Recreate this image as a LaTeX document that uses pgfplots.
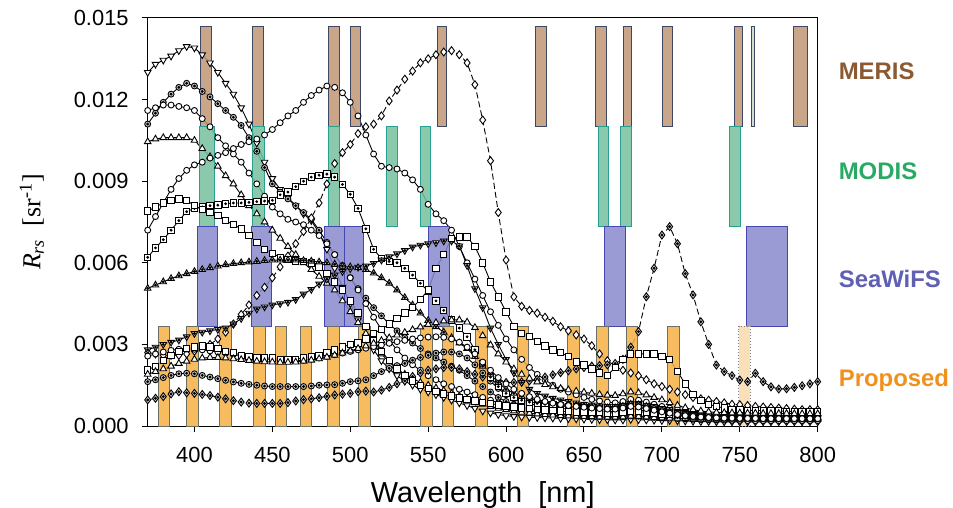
\documentclass[border=0pt]{standalone}
\usepackage{pgfplots}
\pgfplotsset{compat=1.18}
\usepackage{pgfplotstable}
\usepackage{fontspec}
\setmainfont{Liberation Sans}
\newfontfamily\tnr{Liberation Serif}

\definecolor{merisF}{RGB}{192,150,116}
\definecolor{merisD}{RGB}{60,72,100}
\definecolor{merisL}{RGB}{205,214,196}
\definecolor{modisF}{RGB}{118,192,158}
\definecolor{modisD}{RGB}{40,160,145}
\definecolor{seaF}{RGB}{136,136,204}
\definecolor{seaD}{RGB}{70,70,175}
\definecolor{propF}{RGB}{247,176,68}
\definecolor{propD}{RGB}{105,112,100}
\definecolor{propL}{RGB}{248,214,160}
\definecolor{merisT}{RGB}{140,90,50}
\definecolor{modisT}{RGB}{40,170,100}
\definecolor{seaT}{RGB}{95,95,180}
\definecolor{propT}{RGB}{240,145,30}

% wl a(tri-down) b(circle-star grey) c(circle) d(tri-up) e(circle, 490 peak) f(diamond dashed) g(diamond-dot dashed) h(circle-dot low) i(square-dot) j(square upper) k(tri-down dot) l(tri-up dot) m(circle low) n(square low) o(tri-up low)
\pgfplotstableread{
wl a b c d e f g h i j k l m n o
370 0.0130 0.0111 0.0116 0.01045 0.0072 0.0027 0.00096 0.00163 0.0062 0.0079 0.0028 0.00506 0.00257 0.00206 0.0019
375 0.0133 0.0115 0.0117 0.01055 0.0077 0.00265 0.00102 0.0017 0.00655 0.00805 0.0029 0.00518 0.00265 0.0022 0.0020
380 0.01345 0.0119 0.0118 0.0106 0.0082 0.0026 0.00108 0.00178 0.00685 0.0082 0.0030 0.0053 0.00272 0.0024 0.0021
385 0.0136 0.0122 0.0118 0.0106 0.0087 0.0026 0.00118 0.00186 0.0072 0.0083 0.00308 0.00542 0.00278 0.0026 0.0022
390 0.0138 0.01245 0.01175 0.0106 0.0091 0.0026 0.00126 0.00192 0.00755 0.00835 0.00316 0.00552 0.00282 0.00275 0.0023
395 0.01395 0.0126 0.0117 0.0106 0.0094 0.00265 0.00122 0.00194 0.00788 0.0083 0.00328 0.0056 0.00283 0.00285 0.00238
400 0.0139 0.0125 0.0116 0.0105 0.0096 0.00275 0.0012 0.00192 0.0080 0.0081 0.0034 0.00568 0.00282 0.0029 0.00245
405 0.01365 0.0123 0.0113 0.0102 0.0097 0.00285 0.00116 0.00186 0.00805 0.00795 0.00345 0.00575 0.0028 0.00295 0.0025
410 0.01335 0.0121 0.0110 0.0099 0.00985 0.0030 0.00112 0.0018 0.0081 0.00785 0.0035 0.00582 0.00276 0.0029 0.00252
415 0.0130 0.01185 0.0106 0.00955 0.00995 0.0032 0.00106 0.00174 0.00812 0.00775 0.00355 0.00588 0.00272 0.00285 0.00252
420 0.0126 0.0116 0.0103 0.0092 0.01005 0.00345 0.0010 0.00168 0.00817 0.00755 0.0036 0.00593 0.00268 0.00275 0.0025
425 0.0122 0.01135 0.0100 0.0089 0.0102 0.00375 0.00093 0.00162 0.0082 0.0074 0.00375 0.00597 0.00263 0.0027 0.00247
430 0.0117 0.01105 0.0097 0.0085 0.01035 0.0041 0.00088 0.00157 0.0082 0.00725 0.00395 0.0060 0.00258 0.0026 0.00244
435 0.0111 0.0106 0.0093 0.0081 0.01045 0.00445 0.00084 0.00153 0.00822 0.0070 0.00415 0.00603 0.00253 0.00255 0.00241
440 0.0104 0.0101 0.0089 0.0078 0.01055 0.0048 0.00083 0.0015 0.00825 0.00675 0.0043 0.00605 0.0025 0.0025 0.00238
445 0.0097 0.0095 0.00845 0.0075 0.0107 0.0051 0.00083 0.00147 0.00827 0.0065 0.00438 0.00608 0.00247 0.0025 0.00236
450 0.0091 0.0089 0.00805 0.0072 0.0109 0.00545 0.00083 0.00145 0.0083 0.00635 0.00445 0.0061 0.00244 0.0025 0.00235
455 0.0087 0.0086 0.0078 0.0069 0.01115 0.00585 0.00083 0.00145 0.0085 0.0062 0.0045 0.0061 0.00242 0.00245 0.00234
460 0.0084 0.00835 0.0076 0.0066 0.0114 0.00625 0.00086 0.00145 0.0086 0.00612 0.00455 0.0061 0.0024 0.00245 0.00234
465 0.0081 0.0081 0.0075 0.0063 0.0116 0.0067 0.00092 0.00145 0.0088 0.00607 0.00465 0.0061 0.0024 0.00245 0.00235
470 0.0078 0.00785 0.0074 0.0060 0.0119 0.00715 0.00097 0.00145 0.0090 0.00604 0.00485 0.00608 0.00242 0.0025 0.00238
475 0.00755 0.0076 0.0072 0.00575 0.01215 0.00765 0.0010 0.00147 0.00915 0.0060 0.00502 0.00606 0.00246 0.00255 0.00242
480 0.0071 0.0072 0.0070 0.0055 0.01235 0.0082 0.00104 0.0015 0.00922 0.00585 0.00522 0.00603 0.0025 0.0026 0.00247
485 0.0065 0.00675 0.0067 0.00525 0.0125 0.0089 0.00109 0.00151 0.00926 0.0056 0.0054 0.0060 0.00256 0.0027 0.00253
490 0.0058 0.0063 0.0063 0.0050 0.01245 0.00965 0.00114 0.00152 0.00915 0.0053 0.00555 0.00595 0.00262 0.0028 0.0026
495 0.0051 0.00585 0.0059 0.0046 0.01225 0.01005 0.00117 0.00157 0.00888 0.0050 0.00568 0.00588 0.00268 0.0029 0.00268
500 0.0045 0.00545 0.00545 0.0042 0.0119 0.01035 0.0012 0.00163 0.00852 0.0046 0.00578 0.00585 0.00274 0.0030 0.00276
505 0.0039 0.00505 0.0050 0.0038 0.0114 0.01075 0.00126 0.00166 0.0080 0.00415 0.00584 0.00582 0.0028 0.00305 0.00285
510 0.0033 0.0047 0.0045 0.0034 0.0107 0.0110 0.00128 0.0017 0.00725 0.00365 0.00588 0.00575 0.00286 0.0032 0.00294
515 0.0028 0.00435 0.0040 0.0030 0.0100 0.0111 0.00125 0.00185 0.0065 0.00315 0.00598 0.00562 0.00292 0.0034 0.00304
520 0.0024 0.00405 0.00355 0.00265 0.00955 0.0114 0.00132 0.0020 0.00615 0.00275 0.0061 0.00545 0.00298 0.00355 0.00314
525 0.0021 0.00375 0.00315 0.00235 0.0095 0.01195 0.00142 0.00212 0.00605 0.0024 0.00622 0.00525 0.00304 0.00375 0.00324
530 0.00185 0.0035 0.0028 0.0021 0.00945 0.01235 0.00155 0.00222 0.0060 0.0021 0.00633 0.0050 0.0031 0.00395 0.00334
535 0.00165 0.00325 0.0025 0.0019 0.0093 0.01275 0.00166 0.0023 0.0058 0.00185 0.00645 0.00472 0.00315 0.00415 0.00344
540 0.0015 0.00305 0.00225 0.00175 0.00905 0.01305 0.00182 0.00242 0.00555 0.00165 0.00658 0.00445 0.0032 0.00435 0.00354
545 0.00135 0.00285 0.00205 0.0016 0.0087 0.01335 0.00195 0.00252 0.00525 0.0015 0.00665 0.00415 0.00324 0.00465 0.00364
550 0.00125 0.00265 0.00185 0.0015 0.00815 0.0135 0.00205 0.0026 0.00495 0.00138 0.0067 0.00388 0.00327 0.0050 0.00373
555 0.00115 0.0025 0.0017 0.0014 0.0078 0.01365 0.0021 0.00268 0.0046 0.00127 0.00674 0.00365 0.00328 0.0058 0.0038
560 0.00105 0.00235 0.00155 0.0013 0.00755 0.01375 0.00215 0.00272 0.00425 0.00118 0.0068 0.00345 0.00326 0.0063 0.00386
565 0.00095 0.0022 0.00145 0.0012 0.0072 0.0138 0.00215 0.00272 0.0039 0.0011 0.0068 0.00325 0.0032 0.0069 0.0039
570 0.00085 0.00205 0.00135 0.0011 0.0066 0.01365 0.0021 0.00265 0.0036 0.00103 0.00662 0.00305 0.00308 0.00695 0.0039
575 0.00075 0.00185 0.00125 0.0010 0.0060 0.01335 0.0020 0.0025 0.00328 0.00097 0.0059 0.00285 0.0029 0.00695 0.00382
580 0.00065 0.00165 0.00115 0.0009 0.0054 0.01255 0.0019 0.00225 0.0028 0.00092 0.00505 0.00255 0.00265 0.0066 0.00362
585 0.00055 0.00145 0.00105 0.0008 0.0048 0.01125 0.0018 0.00195 0.0023 0.00087 0.00435 0.0022 0.00235 0.0060 0.00332
590 0.00048 0.00125 0.00095 0.00072 0.0042 0.00975 0.0017 0.00165 0.0018 0.00082 0.0036 0.0019 0.00205 0.0053 0.00298
595 0.00042 0.00105 0.00085 0.00065 0.0037 0.00785 0.00165 0.00138 0.00145 0.00078 0.0030 0.0016 0.00178 0.00475 0.00265
600 0.00038 0.0009 0.00075 0.0006 0.0032 0.0061 0.0016 0.00115 0.0012 0.00074 0.00245 0.00135 0.00155 0.0042 0.00235
605 0.00035 0.00078 0.00068 0.00055 0.0028 0.00475 0.0016 0.0010 0.00105 0.0007 0.00195 0.0012 0.00135 0.00365 0.0021
610 0.00033 0.00068 0.00062 0.0005 0.00245 0.0044 0.00162 0.0009 0.00095 0.00067 0.0016 0.00108 0.0012 0.0034 0.0019
615 0.00032 0.0006 0.00057 0.00047 0.00215 0.00425 0.00166 0.00082 0.00088 0.00064 0.00135 0.0010 0.00108 0.0033 0.00175
620 0.00031 0.00055 0.00052 0.00044 0.0019 0.00415 0.00172 0.00076 0.00083 0.00061 0.0012 0.00094 0.00098 0.0031 0.00162
625 0.0003 0.0005 0.00049 0.00042 0.0017 0.0040 0.0018 0.00072 0.0008 0.00059 0.0011 0.0009 0.0009 0.00295 0.00152
630 0.00029 0.00047 0.00046 0.0004 0.0015 0.00385 0.00188 0.00068 0.00077 0.00057 0.00102 0.00086 0.00084 0.0028 0.00144
635 0.00028 0.00045 0.00044 0.00038 0.00135 0.00365 0.00196 0.00065 0.00074 0.00055 0.00096 0.00082 0.00079 0.0027 0.00138
640 0.00027 0.00043 0.00042 0.00037 0.00125 0.0035 0.00203 0.00062 0.00072 0.00053 0.0009 0.00079 0.00075 0.00255 0.00133
645 0.00026 0.00041 0.0004 0.00036 0.00115 0.00335 0.0021 0.0006 0.0007 0.00052 0.00085 0.00076 0.00072 0.00235 0.00128
650 0.00025 0.0004 0.00038 0.00035 0.00105 0.0032 0.00215 0.00058 0.00068 0.00051 0.0008 0.00073 0.00069 0.00225 0.00124
655 0.00024 0.00038 0.00036 0.00034 0.00098 0.00295 0.0022 0.00056 0.00067 0.0005 0.00077 0.0007 0.00066 0.0021 0.0012
660 0.00023 0.00036 0.00035 0.00033 0.00092 0.00265 0.00222 0.00054 0.00066 0.00049 0.00074 0.00068 0.00064 0.00195 0.00116
665 0.00023 0.00035 0.00034 0.00032 0.00088 0.0024 0.00225 0.00053 0.00066 0.00048 0.00072 0.00067 0.00062 0.00185 0.00113
670 0.00022 0.00034 0.00033 0.00032 0.00085 0.0022 0.0023 0.00053 0.00067 0.00048 0.00072 0.00067 0.00062 0.00215 0.00112
675 0.00022 0.00035 0.00034 0.00033 0.0009 0.00205 0.00245 0.00056 0.00072 0.0005 0.00076 0.00072 0.00066 0.00245 0.00118
680 0.00024 0.00038 0.00037 0.00036 0.00098 0.00195 0.0029 0.00062 0.0008 0.00054 0.00082 0.0008 0.00072 0.00265 0.00125
685 0.00023 0.00037 0.00036 0.00035 0.00095 0.00185 0.00347 0.0006 0.00078 0.00053 0.0008 0.00078 0.0007 0.00265 0.00122
690 0.00022 0.00035 0.00034 0.00033 0.00088 0.0017 0.00475 0.00055 0.00072 0.0005 0.00074 0.00072 0.00064 0.00265 0.00114
695 0.00021 0.00033 0.00032 0.00031 0.0008 0.00155 0.0058 0.0005 0.00066 0.00047 0.00067 0.00065 0.00058 0.00265 0.00105
700 0.0002 0.00031 0.0003 0.0003 0.00072 0.00145 0.00702 0.00046 0.0006 0.00045 0.0006 0.00058 0.00052 0.00255 0.00096
705 0.0002 0.0003 0.00029 0.00029 0.00066 0.00135 0.00733 0.00042 0.00055 0.00043 0.00055 0.00052 0.00047 0.00245 0.00086
710 0.00019 0.00028 0.00028 0.00028 0.0006 0.00125 0.0067 0.00039 0.0005 0.00042 0.0005 0.00047 0.00042 0.0020 0.00076
715 0.00018 0.00026 0.00027 0.00027 0.00055 0.00115 0.0056 0.00036 0.00045 0.00041 0.00045 0.00043 0.00038 0.00155 0.00067
720 0.00017 0.00025 0.00026 0.00026 0.0005 0.00105 0.00482 0.00034 0.00042 0.0004 0.00042 0.0004 0.00035 0.00115 0.0006
725 0.00016 0.00024 0.00025 0.00025 0.00047 0.0010 0.00383 0.00032 0.0004 0.0004 0.0004 0.00038 0.00033 0.00095 0.00055
730 0.00016 0.00023 0.00024 0.00025 0.00044 0.00095 0.0030 0.00031 0.00038 0.00039 0.00038 0.00036 0.00031 0.0008 0.00052
735 0.00015 0.00022 0.00023 0.00025 0.00042 0.0009 0.00224 0.0003 0.00037 0.00039 0.00036 0.00035 0.0003 0.00072 0.0005
740 0.00015 0.00022 0.00022 0.00025 0.0004 0.00085 0.0020 0.00029 0.00036 0.00039 0.00035 0.00034 0.00029 0.00066 0.00049
745 0.00015 0.00021 0.00021 0.00025 0.00039 0.0008 0.00185 0.00029 0.00036 0.00038 0.00034 0.00033 0.00029 0.00062 0.00048
750 0.00015 0.00021 0.00021 0.00025 0.00038 0.00078 0.00169 0.00028 0.00035 0.00038 0.00033 0.00032 0.00028 0.0006 0.00048
755 0.00015 0.00021 0.0002 0.00025 0.00037 0.00075 0.00163 0.00028 0.00035 0.00038 0.00032 0.00032 0.00028 0.00058 0.00047
760 0.00015 0.0002 0.0002 0.00025 0.00036 0.00072 0.00194 0.00028 0.00034 0.00038 0.00032 0.00031 0.00028 0.00057 0.00047
765 0.00015 0.0002 0.0002 0.00025 0.00035 0.0007 0.00163 0.00028 0.00034 0.00038 0.00031 0.00031 0.00027 0.00056 0.00046
770 0.00015 0.0002 0.0002 0.00025 0.00035 0.00068 0.00144 0.00028 0.00034 0.00038 0.00031 0.0003 0.00027 0.00055 0.00046
775 0.00015 0.0002 0.0002 0.00025 0.00034 0.00066 0.00136 0.00028 0.00033 0.00038 0.0003 0.0003 0.00027 0.00055 0.00046
780 0.00015 0.0002 0.0002 0.00025 0.00034 0.00064 0.00137 0.00028 0.00033 0.00038 0.0003 0.0003 0.00027 0.00054 0.00046
785 0.00015 0.0002 0.0002 0.00025 0.00033 0.00062 0.00142 0.00028 0.00033 0.00038 0.0003 0.0003 0.00027 0.00054 0.00045
790 0.00015 0.0002 0.0002 0.00025 0.00033 0.0006 0.00148 0.00028 0.00033 0.00038 0.0003 0.0003 0.00027 0.00054 0.00045
795 0.00015 0.0002 0.0002 0.00025 0.00033 0.0006 0.00155 0.00028 0.00033 0.00038 0.0003 0.0003 0.00027 0.00053 0.00045
800 0.00015 0.0002 0.0002 0.00025 0.00033 0.0006 0.00163 0.00028 0.00033 0.00038 0.0003 0.0003 0.00027 0.00053 0.00045
}\data

% band: fill, draw, x1, x2, ylo, yhi
\newcommand{\band}[6]{\addplot[fill=#1,draw=#2,line width=0.5pt,fill opacity=0.85] coordinates {(#3,#5) (#4,#5) (#4,#6) (#3,#6)} -- cycle;}

\pgfplotsset{
  cur/.style={black, line width=0.45pt},
  dot/.style={only marks, mark=*, mark size=0.5pt, black},
}

\begin{document}
\begin{tikzpicture}
\useasboundingbox (-73.85bp,-41bp) rectangle (402.65bp,213bp);
\begin{axis}[
  scale only axis, width=335bp, height=204bp,
  xmin=370, xmax=800, ymin=0, ymax=0.015,
  xtick={400,450,500,550,600,650,700,750,800},
  ytick={0,0.003,0.006,0.009,0.012,0.015},
  scaled y ticks=false,
  /pgf/number format/assume math mode=true,
  yticklabel style={xshift=-3bp, /pgf/number format/.cd, fixed, fixed zerofill, precision=3},
  xticklabel style={yshift=-4bp},
  tick align=outside, xtick pos=bottom, ytick pos=left,
  major tick length=3bp,
  tick style={black, line width=0.5pt},
  axis line style={line width=0.5pt},
  tick label style={font=\fontsize{11}{13}\selectfont},
  every axis x label/.style={at={(axis description cs:0.5,0)}, anchor=center, yshift=-34.5bp},
  every axis y label/.style={at={(axis description cs:0,0.5)}, xshift=-57.9bp, anchor=center, rotate=90},
  xlabel={\fontsize{14.5}{17}\selectfont Wavelength\ \ [nm]},
  ylabel={\fontsize{13}{15}\selectfont\tnr\textit{R}\textsubscript{\textit{rs}}\ \ [sr\textsuperscript{-1}]},
  clip=false,
]
% spectra
\addplot[cur, mark=triangle*, mark size=1.9pt, mark options={solid, fill=white, rotate=180}] table[x=wl,y=a]{\data};
\addplot[cur, mark=*, mark size=1.5pt, mark options={solid, fill=gray!45}] table[x=wl,y=b]{\data};
\addplot[dot] table[x=wl,y=b]{\data};
\addplot[cur, mark=*, mark size=1.5pt, mark options={solid, fill=white}] table[x=wl,y=c]{\data};
\addplot[cur, mark=triangle*, mark size=1.9pt, mark options={solid, fill=white}] table[x=wl,y=d]{\data};
\addplot[cur, mark=*, mark size=1.5pt, mark options={solid, fill=white}] table[x=wl,y=e]{\data};
\addplot[cur, dash pattern=on 3bp off 1.6bp, mark=diamond*, mark size=2pt, mark options={solid, fill=white}] table[x=wl,y=f]{\data};
\addplot[cur, dash pattern=on 3bp off 1.6bp, mark=diamond*, mark size=2pt, mark options={solid, fill=gray!40}] table[x=wl,y=g]{\data};
\addplot[dot] table[x=wl,y=g]{\data};
\addplot[cur, mark=*, mark size=1.5pt, mark options={solid, fill=gray!40}] table[x=wl,y=h]{\data};
\addplot[dot] table[x=wl,y=h]{\data};
\addplot[cur, mark=square*, mark size=1.6pt, mark options={solid, fill=white}] table[x=wl,y=i]{\data};
\addplot[dot] table[x=wl,y=i]{\data};
\addplot[cur, mark=square*, mark size=1.6pt, mark options={solid, fill=white}] table[x=wl,y=j]{\data};
\addplot[cur, mark=triangle*, mark size=1.9pt, mark options={solid, fill=gray!35, rotate=180}] table[x=wl,y=k]{\data};
\addplot[dot] table[x=wl,y=k]{\data};
\addplot[cur, mark=triangle*, mark size=1.9pt, mark options={solid, fill=gray!35}] table[x=wl,y=l]{\data};
\addplot[dot] table[x=wl,y=l]{\data};
\addplot[cur, mark=*, mark size=1.5pt, mark options={solid, fill=white}] table[x=wl,y=m]{\data};
\addplot[cur, mark=square*, mark size=1.6pt, mark options={solid, fill=white}] table[x=wl,y=n]{\data};
\addplot[cur, mark=triangle*, mark size=1.9pt, mark options={solid, fill=white}] table[x=wl,y=o]{\data};

% MERIS bands
\band{merisF}{merisD}{404}{411}{0.0110}{0.01467}
\band{merisF}{merisD}{437.5}{444.5}{0.0110}{0.01467}
\band{merisF}{merisD}{486}{493}{0.0110}{0.01467}
\band{merisF}{merisD}{500}{506.5}{0.0110}{0.01467}
\band{merisF}{merisD}{556}{562}{0.0110}{0.01467}
\band{merisF}{merisD}{619}{626}{0.0110}{0.01467}
\band{merisF}{merisD}{657.5}{664.5}{0.0110}{0.01467}
\band{merisF}{merisD}{675.5}{680.5}{0.0110}{0.01467}
\band{merisF}{merisD}{700.5}{706.5}{0.0110}{0.01467}
\band{merisF}{merisD}{746.5}{751.5}{0.0110}{0.01467}
\band{merisL}{merisD}{757.5}{759.5}{0.0110}{0.01467}
\band{merisF}{merisD}{784.5}{793.5}{0.0110}{0.01467}
% MODIS bands
\band{modisF}{modisD}{403.2}{412.6}{0.00733}{0.0110}
\band{modisF}{modisD}{437.5}{444.7}{0.00733}{0.0110}
\band{modisF}{modisD}{486}{493}{0.00733}{0.0110}
\band{modisF}{modisD}{523}{530.3}{0.00733}{0.0110}
\band{modisF}{modisD}{545}{551.7}{0.00733}{0.0110}
\band{modisF}{modisD}{659}{665.7}{0.00733}{0.0110}
\band{modisF}{modisD}{673.4}{680.7}{0.00733}{0.0110}
\band{modisF}{modisD}{743.4}{750.3}{0.00733}{0.0110}
% SeaWiFS bands
\band{seaF}{seaD}{402}{415}{0.00367}{0.00733}
\band{seaF}{seaD}{436.4}{449.3}{0.00367}{0.00733}
\band{seaF}{seaD}{483.2}{496}{0.00367}{0.00733}
\band{seaF}{seaD}{496}{508.7}{0.00367}{0.00733}
\band{seaF}{seaD}{550.2}{563.7}{0.00367}{0.00733}
\band{seaF}{seaD}{663}{676.5}{0.00367}{0.00733}
\band{seaF}{seaD}{754.2}{780.5}{0.00367}{0.00733}
% Proposed bands
\band{propF}{propD}{376.9}{384}{0}{0.00367}
\band{propF}{propD}{394.7}{402.6}{0}{0.00367}
\band{propF}{propD}{416}{424}{0}{0.00367}
\band{propF}{propD}{437.9}{445.6}{0}{0.00367}
\band{propF}{propD}{451.8}{458.9}{0}{0.00367}
\band{propF}{propD}{467.8}{475.4}{0}{0.00367}
\band{propF}{propD}{485.4}{492.9}{0}{0.00367}
\band{propF}{propD}{505.5}{512.8}{0}{0.00367}
\band{propF}{propD}{544.9}{552.8}{0}{0.00367}
\band{propF}{propD}{559.2}{566.2}{0}{0.00367}
\band{propF}{propD}{580.6}{588.3}{0}{0.00367}
\band{propF}{propD}{607.6}{614.6}{0}{0.00367}
\band{propF}{propD}{639.7}{646.9}{0}{0.00367}
\band{propF}{propD}{657.8}{665.7}{0}{0.00367}
\band{propF}{propD}{677.1}{684.3}{0}{0.00367}
\band{propF}{propD}{703.9}{711.1}{0}{0.00367}
\addplot[fill=propL, draw=gray, densely dotted, line width=0.5pt, fill opacity=0.75] coordinates {(749.2,0) (756.7,0) (756.7,0.00367) (749.2,0.00367)} -- cycle;

% labels
\node[anchor=west, inner sep=0pt, font=\fontsize{12}{14}\selectfont\bfseries, text=merisT] at (axis cs:813.3,0.01305) {MERIS};
\node[anchor=west, inner sep=0pt, font=\fontsize{12}{14}\selectfont\bfseries, text=modisT] at (axis cs:813.3,0.00938) {MODIS};
\node[anchor=west, inner sep=0pt, font=\fontsize{12}{14}\selectfont\bfseries, text=seaT] at (axis cs:813.3,0.0054) {SeaWiFS};
\node[anchor=west, inner sep=0pt, font=\fontsize{12}{14}\selectfont\bfseries, text=propT] at (axis cs:813.3,0.00168) {Proposed};
\end{axis}
\end{tikzpicture}
\end{document}
